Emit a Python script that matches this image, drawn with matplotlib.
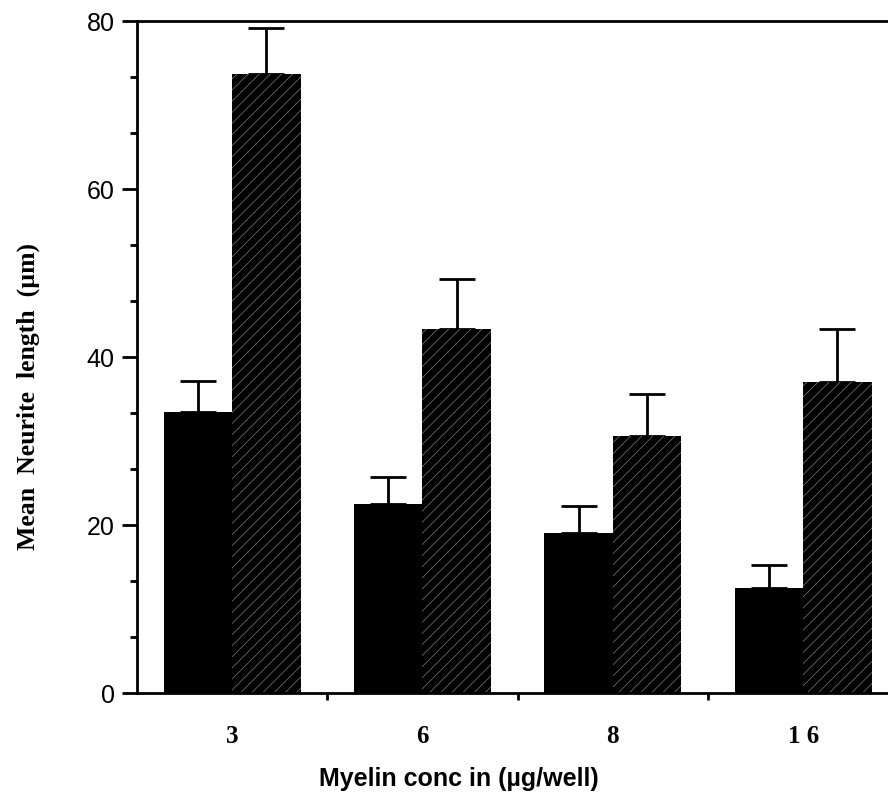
import matplotlib
matplotlib.use("Agg")
import matplotlib.pyplot as plt
from matplotlib.ticker import MultipleLocator, FixedLocator
import numpy as np

# myelin concentration groups (ug/well)
conc_labels = ["3", "6", "8", "1 6"]

# mean neurite length (um) and upper error
solid_means = [33.5, 22.5, 19.0, 12.5]
solid_err = [3.6, 3.2, 3.3, 2.7]
hatched_means = [73.7, 43.3, 30.6, 37.0]
hatched_err = [5.5, 6.0, 5.0, 6.3]

plt.rcParams["hatch.linewidth"] = 0.45

fig = plt.figure(figsize=(8.88, 8.05), dpi=100)
ax = fig.add_axes([0.1543, 0.1391, 0.868, 0.8348])

x = np.arange(len(conc_labels))
w = 0.36

ax.bar(x - w / 2, solid_means, w, color="black", linewidth=0, zorder=2)
ax.bar(x + w / 2, hatched_means, w, facecolor="black", edgecolor="#8a8a8a",
       hatch="///", linewidth=0, zorder=2)

ax.errorbar(x - w / 2, solid_means, yerr=[np.zeros(len(x)), solid_err],
            fmt="none", ecolor="black", elinewidth=2, capsize=13, capthick=2, zorder=1)
ax.errorbar(x + w / 2, hatched_means, yerr=[np.zeros(len(x)), hatched_err],
            fmt="none", ecolor="black", elinewidth=2, capsize=13, capthick=2, zorder=1)

ax.set_xlim(-0.5, 3.55)
ax.set_ylim(0, 80)

ax.spines["right"].set_visible(False)
for s in ("left", "bottom", "top"):
    ax.spines[s].set_linewidth(2)

ax.yaxis.set_major_locator(MultipleLocator(20))
ax.yaxis.set_minor_locator(MultipleLocator(20 / 3))
ax.tick_params(axis="y", which="major", direction="out", length=11, width=2,
               labelsize=18, pad=5)
ax.tick_params(axis="y", which="minor", direction="out", length=5, width=2)
for lab in ax.get_yticklabels():
    lab.set_fontfamily("Liberation Sans")

ax.xaxis.set_major_locator(FixedLocator(x))
ax.set_xticklabels(conc_labels, fontfamily="Liberation Serif", fontweight="bold",
                   fontsize=18)
ax.xaxis.set_minor_locator(FixedLocator(x[:-1] + 0.5))
ax.tick_params(axis="x", which="major", length=0, pad=23)
ax.tick_params(axis="x", which="minor", direction="out", length=5, width=2)

fig.text(459 / 888, 1 - 779 / 805, "Myelin conc in (\u00b5g/well)",
         fontfamily="Liberation Sans", fontweight="bold", fontsize=18,
         ha="center", va="center")
fig.text(28 / 888, 1 - 397 / 805, "Mean  Neurite  length  (\u00b5m)",
         fontfamily="Liberation Serif", fontweight="bold", fontsize=18.5,
         rotation=90, ha="center", va="center")

fig.savefig("out.png", dpi=100)
